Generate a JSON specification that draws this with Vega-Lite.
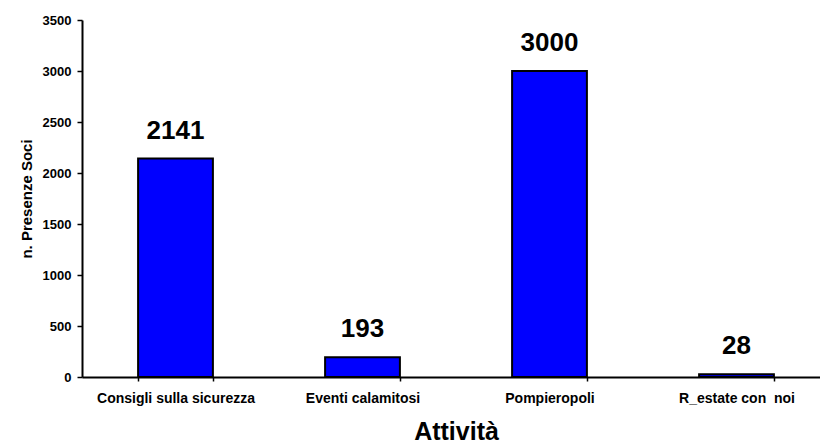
{
  "$schema": "https://vega.github.io/schema/vega-lite/v6.json",
  "autosize": {"type": "none"},
  "padding": {"left": 82, "top": 20, "right": 0, "bottom": 68},
  "width": 738,
  "height": 357,
  "background": "white",
  "data": {"values": [
    {"attivita": "Consigli sulla sicurezza", "presenze": 2141},
    {"attivita": "Eventi calamitosi", "presenze": 193},
    {"attivita": "Pompieropoli", "presenze": 3000},
    {"attivita": "R_estate con  noi", "presenze": 28}
  ]},
  "config": {
    "view": {"stroke": null},
    "font": "Liberation Sans",
    "axis": {"grid": false, "domainColor": "black", "tickColor": "black", "labelColor": "black", "titleColor": "black", "labelFontWeight": "bold", "titleFontWeight": "bold"}
  },
  "encoding": {
    "x": {
      "field": "attivita", "type": "nominal", "sort": null,
      "scale": {"range": [0, 748], "paddingInner": 0.6, "paddingOuter": 0.3},
      "axis": {"title": "Attività", "labelAngle": 0, "labelFontSize": 14, "labelPadding": 10, "labelExpr": "replace(datum.label, '  ', ' \u00a0')", "tickBand": "extent", "tickSize": 4, "tickWidth": 1.5, "domainWidth": 2, "titleFontSize": 25, "titlePadding": 14}
    },
    "y": {
      "field": "presenze", "type": "quantitative",
      "scale": {"domain": [0, 3500], "nice": false},
      "axis": {"title": "n. Presenze Soci", "format": "d", "values": [0, 500, 1000, 1500, 2000, 2500, 3000, 3500], "labelFontSize": 13, "labelPadding": 6, "tickSize": 5, "tickWidth": 1.5, "domainWidth": 2, "titleFontSize": 15, "titlePadding": 8}
    }
  },
  "layer": [
    {"mark": {"type": "bar", "color": "#0000FF", "stroke": "black", "strokeWidth": 2}},
    {"mark": {"type": "text", "baseline": "alphabetic", "dy": -20, "fontSize": 26, "fontWeight": "bold", "color": "black"},
     "encoding": {"text": {"field": "presenze", "type": "quantitative"}}}
  ]
}
